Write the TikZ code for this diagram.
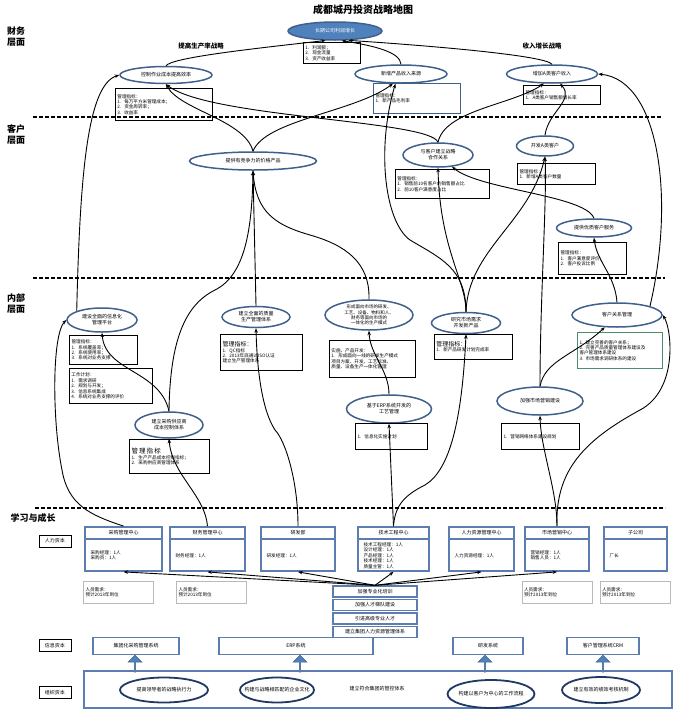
\documentclass[tikz,border=0pt]{standalone}
\usepackage{fontspec}
\setmainfont{Noto Sans CJK SC}
\XeTeXlinebreaklocale "zh"
\XeTeXlinebreakskip = 0pt plus 1pt
\usetikzlibrary{arrows.meta,shapes.geometric,shapes.arrows,positioning}
\definecolor{ellline}{RGB}{64,96,140}
\definecolor{goalfill}{RGB}{79,129,189}
\definecolor{deptblue}{RGB}{91,125,175}
\definecolor{orgnavy}{RGB}{31,56,100}
\definecolor{kpigreen}{RGB}{80,140,110}
\newcommand{\smallcn}{\fontsize{5}{6}\selectfont}
\newcommand{\bodycn}{\fontsize{4.6}{5.4}\selectfont}

\begin{document}
\begin{tikzpicture}[x=1pt,y=-1pt,
    goal/.style={ellipse, draw=ellline, line width=1.5pt, inner sep=0pt, align=center, font=\smallcn},
    kpibox/.style={draw, line width=0.8pt, anchor=north west, align=left, inner sep=2pt, font=\bodycn},
    link/.style={-{Stealth[length=4.5pt,width=3.5pt]}, line width=0.9pt},
    layer/.style={line width=1.1pt, dash pattern=on 4pt off 2pt},
    side/.style={font=\bfseries\fontsize{9}{11}\selectfont, align=center},
    strat/.style={font=\bfseries\fontsize{6.5}{7}\selectfont},
    deptbox/.style={draw=deptblue, line width=1.8pt, minimum height=44pt},
    needbox/.style={draw=gray!55, line width=0.9pt, minimum height=22pt, text width=66pt, align=left, inner sep=2pt, font=\bodycn},
    stackbox/.style={draw=deptblue, line width=1.4pt, minimum width=84pt, minimum height=11pt, inner sep=0pt, font=\smallcn},
    infobox/.style={draw=deptblue, line width=1.8pt, minimum height=17pt, font=\smallcn},
    capbox/.style={draw, line width=0.8pt, minimum width=32pt, minimum height=12pt, inner sep=0pt, font=\smallcn},
    orgell/.style={ellipse, draw=orgnavy, line width=1.8pt, inner sep=0pt, font=\smallcn},
    uparrow/.style={single arrow, shape border rotate=90, fill=goalfill, draw=ellline, line width=0.6pt,
      minimum height=17pt, minimum width=14pt, single arrow head extend=3pt, inner sep=0pt}]
\useasboundingbox (0,0) rectangle (680,710);

% title and layer names
\node[font=\bfseries\fontsize{10}{12}\selectfont] (title) at (363,10) {成都城丹投资战略地图};
\node[side] (finL) at (16,37) {财务\\层面};
\node[side] (cusL) at (16,135) {客户\\层面};
\node[side] (intL) at (16,304) {内部\\层面};
\node[side] (lrnL) at (33,518) {学习与成长};
\node[strat] (prodS) at (201,46) {提高生产率战略};
\node[strat] (growS) at (542,46) {收入增长战略};

% layer borders
\draw[layer] (33,117) -- (662,117);
\draw[layer] (33,278) -- (665,278);
\draw[layer] (35,508) -- (665,508);

% financial layer
\node[goal, fill=goalfill, text=white, minimum width=94pt, minimum height=18pt] (topGoal) at (335,31) {长期公司利润增长};
\node[kpibox, minimum height=21pt, text width=53pt] (goalBox) at (303,42) {1.\ \ 利润额；\\2.\ \ 现金流量\\3.\ \ 资产收益率};
\node[goal, minimum width=92pt, minimum height=17pt] (leftFin) at (166,75) {控制作业成本提高效率};
\node[kpibox, minimum height=32pt, text width=93pt] (lfBox) at (115,88) {管理指标：\\1.\ \ 每万平方米管理成本；\\2.\ \ 资金周转率；\\3.\ \ 收益率};
\node[goal, minimum width=92pt, minimum height=18pt] (midFin) at (401,74) {新增产品收入来源};
\node[kpibox, draw=ellline, line width=1pt, minimum height=30pt, text width=83pt] (mfBox) at (373,83) {管理指标：\\1.\ \ 新产品毛利率};
\node[goal, minimum width=91pt, minimum height=18pt] (rightFin) at (552,74) {增加A类客户收入};
\node[kpibox, line width=1.2pt, minimum height=19pt, text width=73pt] (rfBox) at (523,85) {管理指标：\\1.\ \ A类客户销售额增长率};

% customer layer
\node[goal, minimum width=127pt, minimum height=18pt] (custPrice) at (253,161) {提供有竞争力的价格产品};
\node[goal, minimum width=70pt, minimum height=24pt] (custCoop) at (438,155) {与客户建立战略\\合作关系};
\node[kpibox, minimum height=29pt, text width=90pt] (ccBox) at (395,169) {管理指标：\\1.\ \ 销售前10名客户的销售额占比\\2.\ \ 前10客户满意度占比};
\node[goal, minimum width=57pt, minimum height=20pt] (custA) at (545,146) {开发A类客户};
\node[kpibox, line width=1.2pt, minimum height=21pt, text width=74pt] (caBox) at (517,163) {管理指标：\\1.\ \ 新增A类客户数量};
\node[goal, minimum width=75pt, minimum height=18pt] (custSvc) at (594,228) {提供优质客户服务};
\node[kpibox, line width=1.2pt, minimum height=32pt, text width=64pt] (csBox) at (558,242) {管理指标：\\1.\ \ 客户满意度评价；\\2.\ \ 客户投诉比例};

% internal layer
\node[goal, minimum width=70pt, minimum height=24pt] (infoSys) at (102,320) {建设全面的信息化\\管理平台};
\node[kpibox, line width=1.1pt, minimum height=29pt, text width=64pt] (isBox) at (69,335) {管理指标：\\1.\ \ 系统覆盖率；\\2.\ \ 系统使用率；\\3.\ \ 系统对业务支撑};
\node[kpibox, minimum height=35pt, text width=79pt] (planBox) at (69,368) {工作计划：\\1.\ \ 需求调研\\2.\ \ 规划与开发；\\3.\ \ 信息系统集成\\4.\ \ 系统对业务支撑的评价};
\node[goal, minimum width=68pt, minimum height=21pt] (tisheng) at (256,317) {建立全面的质量\\生产管理体系};
\node[kpibox, line width=1.1pt, minimum height=36pt, text width=78pt] (tsBox) at (220,334) {{\fontsize{6}{7}\selectfont 管理指标：}\\1.\ \ QC指标\\2.\ \ 2013年底通过ISO认证\\建立生产管理体系};
\node[goal, font=\fontsize{4.5}{5.3}\selectfont, minimum width=88pt, minimum height=30pt] (form) at (369,315) {形成面向市场的研发、\\工艺、设备、物料和人、\\财务等面向市场的\\一体化的生产模式};
\node[kpibox, minimum height=37pt, text width=82pt] (formBox) at (329,340) {实施、产品开发：\\1.\ \ 形成面向一线的研发生产模式\\项目方案、开发、工艺标准、\\质量、设备生产一体化管理};
\node[goal, minimum width=69pt, minimum height=21pt] (yanfa) at (466,323) {研究市场需求\\开发新产品};
\node[kpibox, minimum height=25pt, text width=74pt] (yfBox) at (434,334) {{\fontsize{6}{7}\selectfont 管理指标：}\\1.\ \ 新产品研发计划完成率};
\node[goal, minimum width=90pt, minimum height=24pt] (kh) at (617,315) {客户关系管理};
\node[kpibox, draw=kpigreen, line width=1pt, minimum height=36pt, text width=81pt] (khBox) at (577,332) {1. 建立完善的客户关系；\\2. 完善产品质量管理体系建设及\\客户管理体系建设\\3. 市场需求调研体系的建设};
\node[goal, minimum width=85pt, minimum height=28pt] (erp) at (389,409) {基于ERP系统开发的\\工艺管理};
\node[kpibox, line width=1.1pt, minimum height=26pt, text width=68pt] (erpBox) at (355,423) {1.\ \ 信息化实施计划};
\node[goal, minimum width=86pt, minimum height=28pt] (yx) at (540,401) {加强市场营销建设};
\node[kpibox, line width=1.1pt, minimum height=26pt, text width=74pt] (yxBox) at (501,423) {1.\ \ 营销网络体系建设规划};
\node[goal, minimum width=68pt, minimum height=26pt] (buy) at (169,425) {建立采购供应商\\成本控制体系};
\node[kpibox, line width=1.1pt, minimum height=34pt, text width=76pt] (buyBox) at (129,439) {{\fontsize{6.5}{8}\selectfont 管\,理\,指\,标}\\1.\ \ 生产产品成本控制指标；\\2.\ \ 采购供应商管理体系};

% learning and growth: human capital
\node[capbox] (humCap) at (55,541) {人力资本};
\foreach \nm/\cx/\w/\ttl/\bdy in {
    cg/123.5/77/采购管理中心/{采购经理：1人\\采购员：1人},
    cw/207.5/75/财务管理中心/{财务经理：1人},
    rd/298/74/研发部/{研发经理：1人},
    js/393.5/71/技术工程中心/{技术工程经理：1人\\设计经理：1人\\产品经理：1人\\技术经理：1人\\质量主管：1人},
    hr/481.5/65/人力资源管理中心/{人力资源经理：1人},
    mkt/557/64/市场营销中心/{营销经理：1人\\销售人员：1人},
    zgs/635.5/63/子公司/{厂长}} {
  \node[deptbox, minimum width=\w pt] (\nm) at (\cx,549) {};
  \draw[draw=deptblue, line width=1.4pt] ([yshift=-13pt]\nm.north west) -- ([yshift=-13pt]\nm.north east);
  \node[font=\smallcn] at ([yshift=-6.5pt]\nm.north) {\ttl};
  \node[font=\bodycn, align=left, anchor=west] at ([xshift=3pt, yshift=-6.5pt]\nm.west) {\bdy};
}
\foreach \nm/\cx in {need1/118.5, need2/211.5, need3/557, need4/635}
  \node[needbox] (\nm) at (\cx,592) {人员需求：\\预计2013年到位};
\node[stackbox] (st1) at (375,591.5) {加强专业化培训};
\node[stackbox, below=1pt of st1] (st2) {加强人才梯队建设};
\node[stackbox, below=1pt of st2] (st3) {引进高级专业人才};
\node[stackbox, below=1pt of st3] (st4) {建立集团人力资源管理体系};

% information capital
\node[capbox] (infCap) at (55,645.5) {信息资本};
\node[infobox, minimum width=86pt] (ib1) at (136,646) {集团化采购管理系统};
\node[infobox, minimum width=154pt] (ib2) at (296,646) {ERP系统};
\node[infobox, minimum width=70pt] (ib3) at (488,646) {研发系统};
\node[infobox, minimum width=72pt] (ib4) at (603,646) {客户管理系统CRM};
\foreach \x in {135,300,485,603} \node[uparrow] at (\x,664) {};

% organisation capital
\node[capbox] (orgCap) at (55,692.5) {组织资本};
\node[draw=deptblue, line width=1.8pt, minimum width=588pt, minimum height=37pt] (org) at (378,689.5) {};
\node[orgell, minimum width=88pt, minimum height=25pt] (o1) at (164,690) {提高领导者的战略执行力};
\node[orgell, inner xsep=-8pt, minimum width=74pt, minimum height=25pt] (o2) at (277,690) {构建与战略相匹配的企业文化};
\node[font=\smallcn] (o3) at (377,689) {建立符合集团的管控体系};
\node[orgell, inner xsep=-8pt, minimum width=87pt, minimum height=28pt] (o4) at (491,694) {构建以客户为中心的工作流程};
\node[orgell, minimum width=78pt, minimum height=26pt] (o5) at (601,690) {建立有效的绩效考核机制};

% customer -> financial -> goal
\draw[link] (leftFin.north) .. controls (172,58) and (240,50) .. (topGoal.225);
\draw[link] (midFin.north) .. controls (400,52) and (375,46) .. (topGoal.-55);
\draw[link] (rightFin.north) .. controls (545,55) and (420,45) .. (topGoal.-35);
\draw[link] (custPrice.north) .. controls (245,120) and (180,110) .. (leftFin.south);
\draw[link] (custPrice.north) .. controls (265,120) and (355,112) .. (midFin.230);
\draw[link] (custCoop.north) .. controls (430,120) and (210,118) .. (leftFin.south);
\draw[link] (custCoop.north) .. controls (445,110) and (512,105) .. (rightFin.230);
\draw[link] (custA.north) .. controls (548,112) and (575,100) .. (rightFin.-50);
\draw[link] (kh.15) .. controls (675,200) and (660,80) .. (rightFin.east);
\draw[link] (infoSys.north west) .. controls (80,170) and (88,85) .. (leftFin.west);

% internal -> customer
\draw[link] (buy.north) .. controls (170,340) and (185,305) .. (215,290) .. controls (245,275) and (252,230) .. (custPrice.south);
\draw[link] (tisheng.north) -- (custPrice.south);
\draw[link] (form.north) .. controls (370,262) and (345,245) .. (310,235) .. controls (275,225) and (256,212) .. (custPrice.south);
\draw[link] (yanfa.north) .. controls (466,268) and (440,258) .. (410,240) .. controls (385,222) and (376,150) .. (midFin.240);
\draw[link] (yanfa.north) .. controls (466,280) and (440,250) .. (custCoop.south);
\draw[link] (yanfa.north) .. controls (468,250) and (530,222) .. (custA.south);
\draw[link] (yx.north) .. controls (540,300) and (547,200) .. (custA.south);
\draw[link] (kh.north) .. controls (615,275) and (597,262) .. (custSvc.south);
\draw[link] (custSvc.north) .. controls (585,195) and (480,190) .. (custCoop.-40);

% inside the internal layer
\draw[link] (erp.north) .. controls (389,370) and (370,355) .. (form.south);
\draw[link] (buy.north) .. controls (160,370) and (105,372) .. (infoSys.south);
\draw[link] (yx.north) .. controls (545,360) and (575,355) .. (kh.225);

% learning -> internal
\draw[link] (js.north) -- (erp.south);
\draw[link] (js.north) .. controls (395,505) and (405,495) .. (425,485) .. controls (450,470) and (462,420) .. (yanfa.south);
\draw[link] (rd.north) .. controls (298,480) and (285,440) .. (275,430) .. controls (262,410) and (257,370) .. (tisheng.south);
\draw[link] (cw.north) .. controls (205,495) and (172,475) .. (buy.south);
\draw[link] (cg.north) .. controls (90,515) and (68,505) .. (62,470) .. controls (52,420) and (52,335) .. (infoSys.west);
\draw[link] (mkt.north) .. controls (557,490) and (541,450) .. (yx.south);
\draw[link] (mkt.north) .. controls (555,470) and (585,440) .. (640,410) .. controls (678,390) and (672,330) .. (kh.east);

% training supports the departments
\foreach \d in {cg,cw,rd,js,hr,mkt} \draw[link] (st1.north) -- (\d.south);
\end{tikzpicture}
\end{document}
